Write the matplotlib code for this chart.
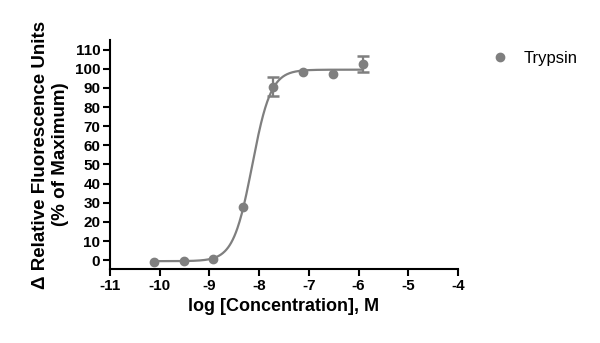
import numpy as np
import matplotlib
matplotlib.use("Agg")
import matplotlib.pyplot as plt

# Data
log_conc = [-10.12, -9.52, -8.92, -8.32, -7.72, -7.12, -6.52, -5.92]
response = [-0.9, -0.5, 0.7, 27.6, 90.6, 98.2, 97.1, 102.5]
errors = [0.0, 0.0, 0.0, 0.0, 5.0, 0.0, 0.0, 4.2]
series_name = "Trypsin"
# Four-parameter logistic fit parameters
fit_bottom = -0.5
fit_top = 99.5
fit_logec50 = -8.14
fit_hill = 2.3

x_ticks = [-11, -10, -9, -8, -7, -6, -5, -4]
y_ticks = [0, 10, 20, 30, 40, 50, 60, 70, 80, 90, 100, 110]

plt.rcParams['font.family'] = ['Liberation Sans', 'DejaVu Sans']
color = '#7f7f7f'

fig = plt.figure(figsize=(6.0, 3.43), dpi=100)
ax = fig.add_axes([0.1833, 0.2157, 0.58, 0.6677])

xc = np.linspace(min(log_conc), max(log_conc), 400)
yc = fit_bottom + (fit_top - fit_bottom) / (1 + 10 ** ((fit_logec50 - xc) * fit_hill))
ax.plot(xc, yc, color=color, lw=1.6, zorder=2)

ax.plot(log_conc, response, 'o', color=color, ms=6, zorder=3, label=series_name)
xe = [x for x, e in zip(log_conc, errors) if e > 0]
ye = [y for y, e in zip(response, errors) if e > 0]
ee = [e for e in errors if e > 0]
ax.errorbar(xe, ye, yerr=ee, fmt='none', ecolor=color,
            capsize=4.5, capthick=1.8, elinewidth=1.6, zorder=3)

ax.set_xlim(-11, -4)
ax.set_ylim(-4.6, 115)
ax.set_xticks(x_ticks)
ax.set_yticks(y_ticks)
ax.set_xticklabels([str(t) for t in x_ticks], fontweight='bold', fontsize=11)
ax.set_yticklabels([str(t) for t in y_ticks], fontweight='bold', fontsize=11)
for s in ['top', 'right']:
    ax.spines[s].set_visible(False)
for s in ['left', 'bottom']:
    ax.spines[s].set_linewidth(1.5)
ax.tick_params(axis='both', direction='out', length=5, width=1.5, pad=2)

ax.set_xlabel('log [Concentration], M', fontsize=13, fontweight='bold', labelpad=4)
ax.set_ylabel('\u0394 Relative Fluorescence Units\n(% of Maximum)', fontsize=13.5,
              fontweight='bold', labelpad=4, linespacing=1.25)

ax.legend(loc='upper left', bbox_to_anchor=(1.03, 1.017), frameon=False,
          fontsize=12, handletextpad=0.4, markerscale=1.0)

fig.savefig('out.png', dpi=100)
